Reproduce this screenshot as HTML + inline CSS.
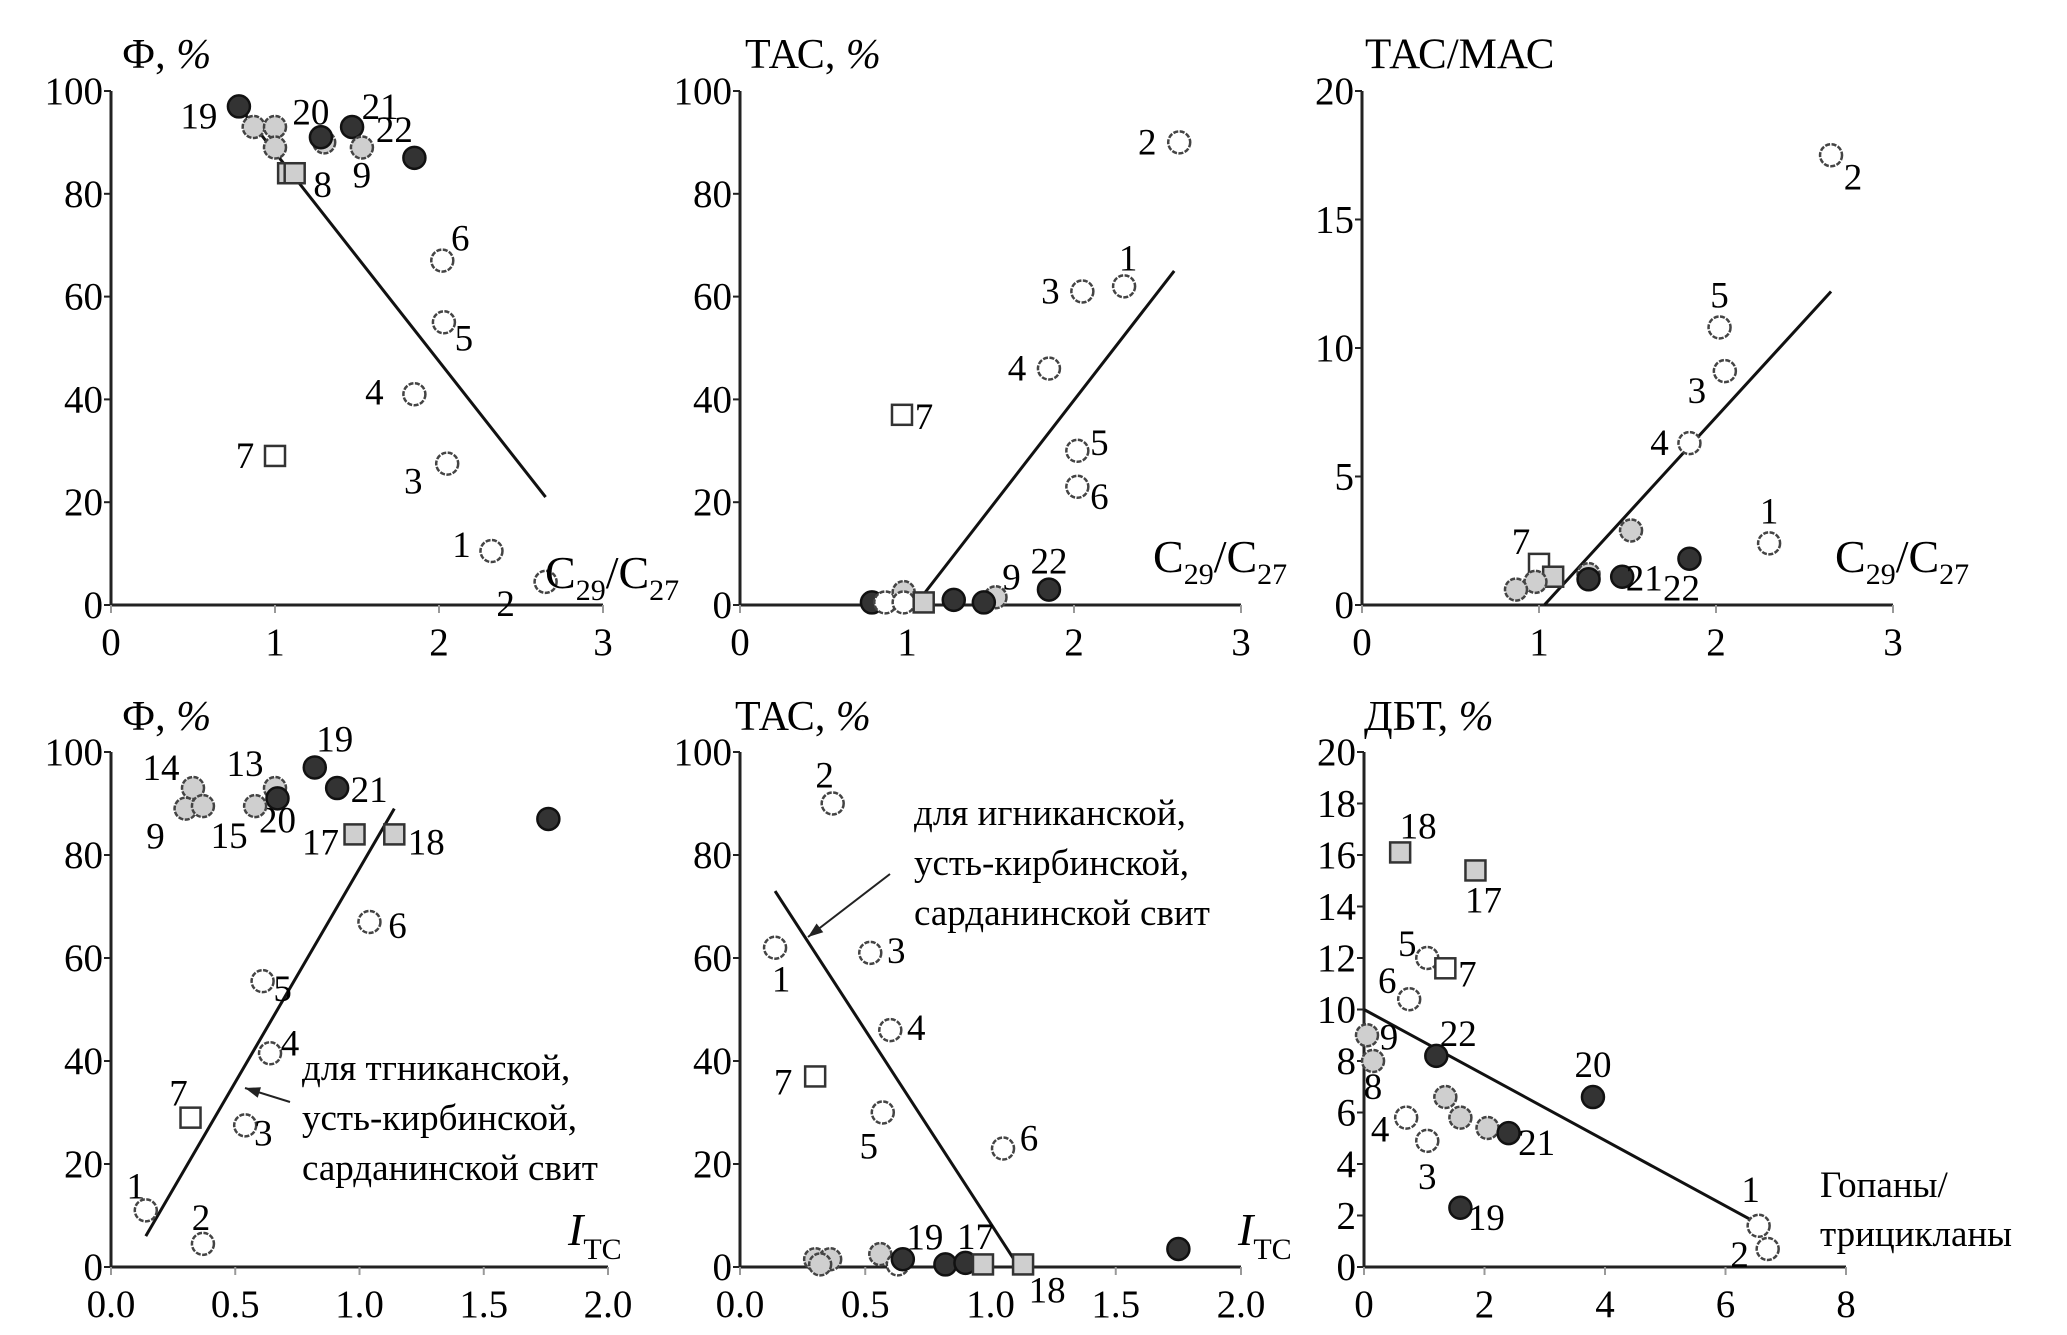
<!DOCTYPE html>
<html><head><meta charset="utf-8"><style>
html,body{margin:0;padding:0;background:#fff;}
svg{display:block;font-family:"Liberation Serif","DejaVu Serif",serif;}
</style></head><body>
<svg id="fig" width="2067" height="1335" viewBox="0 0 2067 1335" xmlns="http://www.w3.org/2000/svg"></svg>
<script>
// ---- Panel 1: Ф vs C29/C27
const p1X=[0.78,0.87,1.0,1.0,1.30,1.28,1.47,1.53,1.85,1.08,1.12,2.02,2.03,1.85,1.0,2.05,2.32,2.65];
const p1Y=[97,93,93,89,90,91,93,89,87,84,84,67,55,41,29,27.5,10.5,4.5];
const p1K=['d','g','g','g','g','d','d','g','d','q','q','o','o','o','s','o','o','o'];
const p1L=['19','','','','','20','21','9','22','','8','6','5','4','7','3','1','2'];
const p1Line=[[0.78,97],[2.65,21]];
// ---- Panel 2: ТАС vs C29/C27
const p2X=[2.63,2.3,2.05,1.85,0.97,2.02,2.02,1.85,1.53,0.79,0.87,0.98,0.98,1.1,1.28,1.46];
const p2Y=[90,62,61,46,37,30,23,3,1.5,0.5,0.5,2.5,0.5,0.5,1,0.5];
const p2K=['o','o','o','o','s','o','o','d','g','d','o','g','o','q','d','d'];
const p2L=['2','1','3','4','7','5','6','22','9','','','','','','',''];
const p2Line=[[1.05,0],[2.6,65]];
// ---- Panel 3: ТАС/МАС vs C29/C27
const p3X=[2.65,2.02,2.05,1.85,1.52,2.3,1.85,1.47,1.28,1.28,1.0,1.08,0.98,0.87];
const p3Y=[17.5,10.8,9.1,6.3,2.9,2.4,1.8,1.1,1.2,1.0,1.6,1.1,0.9,0.6];
const p3K=['o','o','o','o','g','o','d','d','g','d','s','q','g','g'];
const p3L=['2','5','3','4','','1','22','21','','','7','','',''];
const p3Line=[[1.03,0],[2.65,12.2]];
// ---- Panel 4: Ф vs Itc
const p4X=[0.33,0.30,0.37,0.66,0.67,0.58,0.82,0.91,1.76,0.98,1.14,1.04,0.61,0.64,0.32,0.54,0.14,0.37];
const p4Y=[93,89,89.5,93,91,89.5,97,93,87,84,84,67,55.5,41.5,29,27.5,11,4.5];
const p4K=['g','g','g','g','d','g','d','d','d','q','q','o','o','o','s','o','o','o'];
const p4L=['14','9','','13','20','15','19','21','','17','18','6','5','4','7','3','1','2'];
const p4Line=[[0.14,6],[1.14,89]];
// ---- Panel 5: ТАС vs Itc
const p5X=[0.37,0.14,0.52,0.6,0.3,0.57,1.05,0.30,0.36,0.32,0.56,0.63,0.65,0.82,0.90,0.97,1.13,1.75];
const p5Y=[90,62,61,46,37,30,23,1.5,1.5,0.5,2.5,0.5,1.5,0.5,0.8,0.5,0.5,3.5];
const p5K=['o','o','o','o','s','o','o','g','g','g','g','o','d','d','d','q','q','d'];
const p5L=['2','1','3','4','7','5','6','','','','','','19','','17','','18',''];
const p5Line=[[0.14,73],[1.1,1]];
// ---- Panel 6: ДБТ vs Гопаны/трицикланы
const p6X=[0.6,1.85,1.05,1.35,0.75,0.05,0.15,1.2,3.8,1.35,1.6,2.05,2.4,0.7,1.05,1.6,6.55,6.7];
const p6Y=[16.1,15.4,12,11.6,10.4,9,8,8.2,6.6,6.6,5.8,5.4,5.2,5.8,4.9,2.3,1.6,0.7];
const p6K=['q','q','o','s','o','g','g','d','d','g','g','g','d','o','o','d','o','o'];
const p6L=['18','17','5','7','6','9','8','22','20','','','','21','4','3','19','1','2'];
const p6Line=[[0,10],[6.45,1.8]];

const p1Ticks=[0,1,2,3], pYT100=[0,20,40,60,80,100], pYT20=[0,5,10,15,20], p6XT=[0,2,4,6,8], p6YT=[0,2,4,6,8,10,12,14,16,18,20], pIT=[0,0.5,1.0,1.5,2.0];

// label offsets (layout, not data)
const off1=[[-40,10],[0,0],[0,0],[0,0],[0,0],[-10,-25],[28,-20],[0,28],[-20,-28],[0,0],[28,12],[18,-22],[20,16],[-40,-2],[-30,0],[-34,18],[-30,-6],[-40,22]];
const off2=[[-32,0],[4,-28],[-32,0],[-32,0],[22,2],[22,-8],[22,10],[0,-28],[16,-20]];
const off3=[[22,22],[0,-32],[-28,20],[-30,0],[0,0],[0,-32],[-8,30],[22,2],[0,0],[0,0],[-18,-22]];
const off4=[[-32,-20],[-30,28],[0,0],[-30,-24],[0,22],[-26,30],[20,-28],[32,2],[0,0],[-34,8],[32,8],[28,4],[20,8],[20,-10],[-12,-24],[18,8],[-10,-24],[-2,-26]];
const off5=[[-8,-28],[6,32],[26,-2],[26,-2],[-32,6],[-14,34],[26,-10],[0,0],[0,0],[0,0],[0,0],[0,0],[22,-22],[0,0],[10,-26],[0,0],[24,26]];
const off6=[[18,-26],[8,30],[-20,-14],[22,6],[-22,-18],[22,2],[0,26],[22,-22],[0,-32],[0,0],[0,0],[0,0],[28,10],[-26,12],[0,36],[26,10],[-8,-36],[-28,6]];

const svg=document.getElementById('fig');
const NS='http://www.w3.org/2000/svg';
function mk(tag,attrs,parent){const e=document.createElementNS(NS,tag);for(const k in attrs)e.setAttribute(k,attrs[k]);(parent||svg).appendChild(e);return e;}

function panel(id,cfg){
  const g=mk('g',{});
  
  
  const sx=v=>cfg.x0+(v-cfg.xmin)/(cfg.xmax-cfg.xmin)*(cfg.x1-cfg.x0);
  const sy=v=>cfg.y0-(v-cfg.ymin)/(cfg.ymax-cfg.ymin)*(cfg.y0-cfg.y1);
  const ya=mk('line',{x1:cfg.x0,y1:cfg.y0,x2:cfg.x0,y2:cfg.y1,stroke:'#222','stroke-width':3},g);
  
  
  const xa=mk('line',{x1:cfg.x0,y1:cfg.y0,x2:cfg.x1,y2:cfg.y0,stroke:'#222','stroke-width':3},g);
  
  
  cfg.yt.forEach(v=>{
    mk('line',{x1:cfg.x0-7,y1:sy(v),x2:cfg.x0,y2:sy(v),stroke:'#222','stroke-width':2},g);
    const t=mk('text',{x:cfg.x0-8,y:sy(v)+13,'text-anchor':'end','font-size':39},g);
    t.textContent=cfg.yfmt?cfg.yfmt(v):String(v);
    
    
  });
  cfg.xt.forEach(v=>{
    mk('line',{x1:sx(v),y1:cfg.y0,x2:sx(v),y2:cfg.y0+8,stroke:'#999','stroke-width':2},g);
    const t=mk('text',{x:sx(v),y:cfg.y0+50,'text-anchor':'middle','font-size':39},g);
    t.textContent=cfg.xfmt?cfg.xfmt(v):String(v);
    
    
  });
  const ln=mk('line',{x1:sx(cfg.line[0][0]),y1:sy(cfg.line[0][1]),x2:sx(cfg.line[1][0]),y2:sy(cfg.line[1][1]),stroke:'#111','stroke-width':3},g);
  
  
  cfg.xs.forEach((xv,i)=>{
    const cx=sx(xv),cy=sy(cfg.ys[i]),k=cfg.ks[i];
    let e;
    const fill=k==='d'?'#333':(k==='g'||k==='q')?'#cfcfcf':'#fff';
    if(k==='s'||k==='q'){
      e=mk('rect',{x:cx-10,y:cy-10,width:20,height:20,fill:fill,stroke:'#333','stroke-width':2.5},g);
    } else {
      e=mk('circle',{cx:cx,cy:cy,r:11,fill:fill,stroke:k==='d'?'#111':'#444','stroke-width':2.5,'stroke-dasharray':k==='d'?'none':'5 1.5'},g);
    }
    
    
    const lab=cfg.ls[i];
    if(lab){
      const o=cfg.off[i]||[0,0];
      const t=mk('text',{x:cx+o[0],y:cy+o[1]+12,'text-anchor':'middle','font-size':37},g);
      t.textContent=lab;
      
      
    }
  });
  return {g,sx,sy};
}
function txt(x,y,s,size,parent,anchor){const t=mk('text',{x:x,y:y,'font-size':size||38,'text-anchor':anchor||'start'},parent);t.innerHTML=s;return t;}

const f1=v=>v.toFixed(1);
const TY0=605,TY1=91,BY0=1267,BY1=752;
const A=panel('panel-phi-c29c27',{x0:111,x1:603,y0:TY0,y1:TY1,xmin:0,xmax:3,ymin:0,ymax:100,xt:p1Ticks,yt:pYT100,xs:p1X,ys:p1Y,ks:p1K,ls:p1L,off:off1,line:p1Line});
const B=panel('panel-tas-c29c27',{x0:740,x1:1241,y0:TY0,y1:TY1,xmin:0,xmax:3,ymin:0,ymax:100,xt:p1Ticks,yt:pYT100,xs:p2X,ys:p2Y,ks:p2K,ls:p2L,off:off2,line:p2Line});
const C=panel('panel-tasmas-c29c27',{x0:1362,x1:1893,y0:TY0,y1:TY1,xmin:0,xmax:3,ymin:0,ymax:20,xt:p1Ticks,yt:pYT20,xs:p3X,ys:p3Y,ks:p3K,ls:p3L,off:off3,line:p3Line});
const D=panel('panel-phi-itc',{x0:111,x1:608,y0:BY0,y1:BY1,xmin:0,xmax:2,ymin:0,ymax:100,xt:pIT,yt:pYT100,xfmt:f1,xs:p4X,ys:p4Y,ks:p4K,ls:p4L,off:off4,line:p4Line});
const E=panel('panel-tas-itc',{x0:740,x1:1241,y0:BY0,y1:BY1,xmin:0,xmax:2,ymin:0,ymax:100,xt:pIT,yt:pYT100,xfmt:f1,xs:p5X,ys:p5Y,ks:p5K,ls:p5L,off:off5,line:p5Line});
const F=panel('panel-dbt-hopanes',{x0:1364,x1:1846,y0:BY0,y1:BY1,xmin:0,xmax:8,ymin:0,ymax:20,xt:p6XT,yt:p6YT,xs:p6X,ys:p6Y,ks:p6K,ls:p6L,off:off6,line:p6Line});

let t;
t=txt(122,68,'Ф, <tspan font-style="italic">%</tspan>',42,A.g);


t=txt(745,68,'ТАС, <tspan font-style="italic">%</tspan>',42,B.g);


t=txt(1365,68,'ТАС/МАС',43,C.g);


t=txt(122,730,'Ф, <tspan font-style="italic">%</tspan>',42,D.g);


t=txt(735,730,'ТАС, <tspan font-style="italic">%</tspan>',42,E.g);


t=txt(1364,730,'ДБТ, <tspan font-style="italic">%</tspan>',42,F.g);



[[545,588,A.g],[1153,572,B.g],[1835,572,C.g]].forEach(a=>{
  const tt=txt(a[0],a[1],'C<tspan font-size="30" dy="12">29</tspan><tspan dy="-12">/C</tspan><tspan font-size="30" dy="12">27</tspan>',46,a[2]);
  
  
});
[[568,1245,D.g],[1238,1245,E.g]].forEach(a=>{
  const tt=txt(a[0],a[1],'<tspan font-style="italic">I</tspan><tspan font-size="30" dy="14">ТС</tspan>',46,a[2]);
  
  
});
t=txt(1820,1197,'Гопаны/',37,F.g);


t=txt(1820,1246,'трицикланы',37,F.g);



function annot(x,y,lines,ax1,ay1,ax2,ay2,parent,name){
  const g=mk('g',{},parent);
  
  
  lines.forEach((s,i)=>{mk('text',{x:x,y:y+i*50,'font-size':37},g).textContent=s;});
  mk('line',{x1:ax1,y1:ay1,x2:ax2,y2:ay2,stroke:'#222','stroke-width':2},g);
  const ang=Math.atan2(ay2-ay1,ax2-ax1),L=16;
  const p=[[ax2,ay2],[ax2-L*Math.cos(ang-0.35),ay2-L*Math.sin(ang-0.35)],[ax2-L*Math.cos(ang+0.35),ay2-L*Math.sin(ang+0.35)]];
  mk('polygon',{points:p.map(q=>q.join(',')).join(' '),fill:'#222'},g);
}
annot(302,1080,['для тгниканской,','усть-кирбинской,','сарданинской свит'],290,1102,245,1088,D.g,'annotation-phi-itc');
annot(914,825,['для игниканской,','усть-кирбинской,','сарданинской свит'],890,874,808,937,E.g,'annotation-tas-itc');
</script>
</body></html>
